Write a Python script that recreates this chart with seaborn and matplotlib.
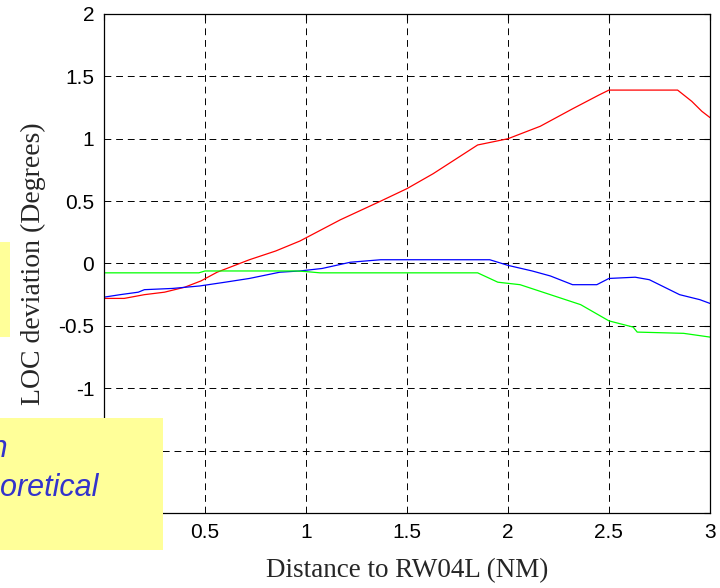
import matplotlib
matplotlib.use("Agg")
import matplotlib.pyplot as plt
import numpy as np
import pandas as pd
import seaborn as sns
from matplotlib.patches import Rectangle

sns.set_style('white')
plt.rcParams['font.family'] = ['Liberation Sans', 'DejaVu Sans']

# distance (NM) / deviation (deg)
red_x = [0, 0.1, 0.2, 0.3, 0.4, 0.48, 0.56, 0.72, 0.85, 0.97, 1.17, 1.37, 1.5, 1.63,
         1.85, 2.0, 2.16, 2.32, 2.45, 2.5, 2.84, 2.91, 2.96, 3.0]
red_y = [-0.28, -0.28, -0.25, -0.23, -0.19, -0.14, -0.07, 0.03, 0.1, 0.18, 0.35, 0.5, 0.6, 0.72,
         0.95, 1.0, 1.1, 1.24, 1.35, 1.39, 1.39, 1.3, 1.22, 1.17]

blue_x = [0, 0.08, 0.17, 0.2, 0.34, 0.475, 0.6, 0.72, 0.87, 0.97, 1.08, 1.22, 1.37, 1.75,
          1.91, 2.0, 2.12, 2.21, 2.32, 2.44, 2.5, 2.63, 2.7, 2.85, 2.95, 3.0]
blue_y = [-0.27, -0.25, -0.23, -0.21, -0.2, -0.18, -0.15, -0.12, -0.07, -0.06, -0.04, 0.01, 0.03, 0.03,
          0.03, -0.015, -0.06, -0.1, -0.17, -0.17, -0.12, -0.11, -0.13, -0.25, -0.29, -0.32]

green_x = [0, 0.47, 0.5, 0.95, 1.0, 1.07, 1.85, 1.95, 2.06, 2.21, 2.36, 2.5, 2.62, 2.64, 2.87, 3.0]
green_y = [-0.075, -0.075, -0.06, -0.06, -0.065, -0.075, -0.075, -0.15, -0.17, -0.25, -0.33, -0.46,
           -0.51, -0.55, -0.56, -0.59]

xticks = [0, 0.5, 1, 1.5, 2, 2.5, 3]
xtick_labels = ['0', '0.5', '1', '1.5', '2', '2.5', '3']
yticks = [-2, -1.5, -1, -0.5, 0, 0.5, 1, 1.5, 2]
ytick_labels = ['-2', '-1.5', '-1', '-0.5', '0', '0.5', '1', '1.5', '2']

fig = plt.figure(figsize=(7.2, 5.88), dpi=100)
ax = fig.add_axes([0.1444, 0.1276, 0.8416, 0.8486])

for xs, ys, c in [(red_x, red_y, '#ff0000'), (blue_x, blue_y, '#0000ff'), (green_x, green_y, '#00ff00')]:
    df = pd.DataFrame({'d': xs, 'v': ys})
    sns.lineplot(data=df, x='d', y='v', color=c, lw=0.9, ax=ax, sort=False, estimator=None)

ax.set_xlim(0, 3)
ax.set_ylim(-2, 2)
ax.set_xticks(xticks)
ax.set_xticklabels(xtick_labels)
ax.set_yticks(yticks)
ax.set_yticklabels(ytick_labels)
ax.tick_params(direction='in', length=4, width=0.8, top=True, right=True,
               labelsize=15, pad=7, colors='black')
ax.grid(True, color='black', lw=0.7, linestyle=(0, (7, 5)))
for s in ax.spines.values():
    s.set_color('black')
    s.set_linewidth(0.9)

ax.set_xlabel('Distance to RW04L (NM)', family='Liberation Serif', fontsize=19.5, labelpad=12)
ax.set_ylabel('LOC deviation (Degrees)', family='Liberation Serif', fontsize=20, labelpad=9)

# yellow callouts overlapping the left side (cut off by the page edge)
fig.add_artist(Rectangle((0, 1 - 337 / 588), 10 / 720, 95 / 588, transform=fig.transFigure,
                         facecolor='#ffff99', edgecolor='none', zorder=5))
fig.add_artist(Rectangle((0, 1 - 550 / 588), 163 / 720, 132 / 588, transform=fig.transFigure,
                         facecolor='#ffff99', edgecolor='none', zorder=5))
fig.text(8 / 720, 1 - 457 / 588, 'Flight inspection', ha='right', va='baseline',
         fontsize=22, style='italic', color='#3333cc', zorder=6)
fig.text(98 / 720, 1 - 496 / 588, 'vs. theoretical', ha='right', va='baseline',
         fontsize=22, style='italic', color='#3333cc', zorder=6)

fig.savefig('out.png', dpi=100)
